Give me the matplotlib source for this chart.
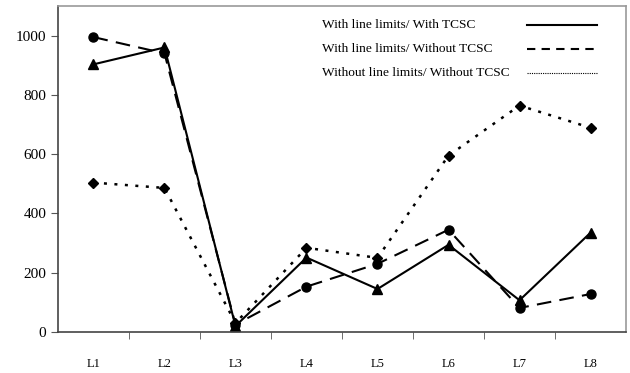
import numpy as np
import matplotlib.pyplot as plt

categories = ["L1", "L2", "L3", "L4", "L5", "L6", "L7", "L8"]
with_limits_with_tcsc = [903, 960, 20, 251, 145, 294, 107, 335]
with_limits_without_tcsc = [995, 940, 25, 153, 230, 345, 81, 128]
without_limits_without_tcsc = [504, 486, 30, 284, 250, 595, 764, 689]
labels = ["With line limits/ With TCSC",
          "With line limits/ Without TCSC",
          "Without line limits/ Without TCSC"]

plt.rcParams['font.family'] = ['Liberation Serif', 'DejaVu Serif']

fig = plt.figure(figsize=(6.3, 3.73), dpi=100)
ax = fig.add_axes([0.092, 0.11, 0.9017, 0.874])

x = np.arange(len(categories))
ax.plot(x, with_limits_with_tcsc, color="black", lw=1.5, marker="^", ms=7)
ax.plot(x, with_limits_without_tcsc, color="black", lw=1.5, ls=(0, (7, 4)), marker="o", ms=6.5)
ax.plot(x, without_limits_without_tcsc, color="black", lw=1.8, ls=(0, (1.2, 3)), marker="D", ms=5.5)

ax.set_xlim(-0.5, len(categories) - 0.5)
ax.set_ylim(0, 1100)
ax.set_yticks([0, 200, 400, 600, 800, 1000])
ax.tick_params(axis="y", labelsize=11, length=5, direction="out", color="#555555")

ax.set_xticks(x)
ax.set_xticklabels(categories, fontsize=9)
ax.set_xticks(np.arange(0.5, len(categories) - 0.5, 1), minor=True)
ax.tick_params(axis="x", which="major", length=0, pad=18.5)
ax.tick_params(axis="x", which="minor", length=5, direction="out", color="#555555")

for side in ["top", "right"]:
    ax.spines[side].set_color("#999999")
for side in ["left", "bottom"]:
    ax.spines[side].set_color("#444444")
for s in ax.spines.values():
    s.set_linewidth(1.2)

# legend drawn by hand: text left, line sample on the right
styles = [dict(lw=1.5, ls="-"),
          dict(lw=1.5, ls=(0, (4, 3))),
          dict(lw=0.8, ls=(0, (1, 1)))]
rows = [0.942, 0.868, 0.795]
for lab, st, yy in zip(labels, styles, rows):
    ax.text(0.465, yy, lab, transform=ax.transAxes, fontsize=9.6, va="center", ha="left")
    ax.plot([0.826, 0.949], [yy, yy], transform=ax.transAxes, color="black", **st)

fig.savefig("out.png", dpi=100)
